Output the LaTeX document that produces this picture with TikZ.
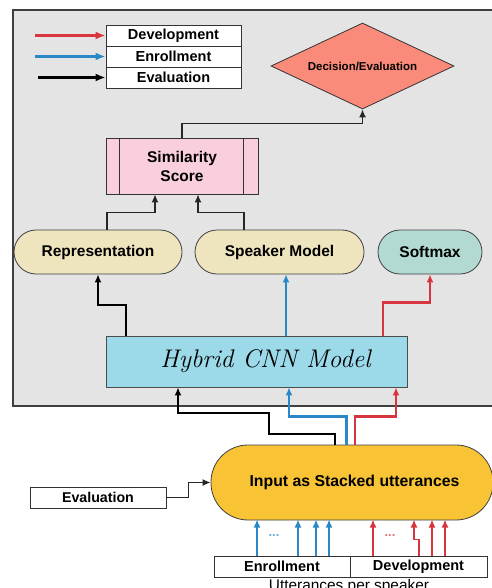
\documentclass[tikz,border=0pt]{standalone}
\usepackage{fontspec}
\setsansfont{Liberation Sans}
\usepackage{tikz}
\usetikzlibrary{shapes.geometric}
\usetikzlibrary{arrows.meta}
\definecolor{bggray}{HTML}{E4E4E4}
\definecolor{devred}{HTML}{D9353F}
\definecolor{enrblue}{HTML}{2A88C8}
\definecolor{decfill}{HTML}{FA8B7B}
\definecolor{simfill}{HTML}{F9CEDD}
\definecolor{repfill}{HTML}{EEE4BE}
\definecolor{softfill}{HTML}{B2DAD3}
\definecolor{cnnfill}{HTML}{9CDAEA}
\definecolor{inpfill}{HTML}{F9C336}

\begin{document}
\begin{tikzpicture}[x=1pt,y=-1pt,
    legbox/.style={draw=black!80, line width=0.8pt, fill=white, inner sep=0pt,
        minimum height=21pt, font=\sffamily\bfseries\fontsize{14.5}{16}\selectfont},
    pill/.style={draw=black!75, line width=0.8pt, rounded corners=22pt, inner sep=0pt,
        minimum height=44pt, font=\sffamily\bfseries\fontsize{15.5}{17}\selectfont},
    tip/.style={-{Latex[length=8pt,width=7pt]}},
    blkthin/.style={draw=black!85, line width=1.3pt, tip},
    blkarr/.style={draw=black, line width=2pt, tip},
    bluarr/.style={draw=enrblue, line width=2.3pt, tip},
    redarr/.style={draw=devred, line width=2.3pt, tip},
    bluthin/.style={draw=enrblue, line width=1.3pt, tip},
    redthin/.style={draw=devred, line width=1.3pt, tip},
    legarr/.style={line width=2.6pt, -{Latex[length=10pt,width=8pt]}}]
    \useasboundingbox (0,0) rectangle (491,588);

    % grey frame round the model
    \draw[draw=black!75, line width=1.8pt, fill=bggray] (13,10) rectangle (500,406);

    % legend
    \node[legbox, minimum width=135pt] (devbox) at (173.5,35.5) {Development};
    \node[legbox, minimum width=135pt] (enrbox) at (173.5,56.5) {Enrollment};
    \node[legbox, minimum width=135pt] (evabox) at (173.5,77.5) {Evaluation};
    \coordinate (devtail) at (35,35.5);
    \coordinate (enrtail) at (35,56.5);
    \coordinate (evatail) at (38,77.5);
    \draw[legarr, devred] (devtail) -- (devbox.west);
    \draw[legarr, enrblue] (enrtail) -- (enrbox.west);
    \draw[legarr, black] (evatail) -- (evabox.west);

    \node[diamond, aspect=2.1, draw=black!80, line width=0.8pt, fill=decfill, inner sep=0pt,
        minimum width=183pt, minimum height=86pt,
        font=\sffamily\bfseries\fontsize{11.5}{13}\selectfont] (dec) at (362.5,66) {Decision/Evaluation};

    \node[draw=black!80, line width=0.8pt, fill=simfill, minimum width=152pt, minimum height=56pt,
        align=center, font=\sffamily\bfseries\fontsize{15.5}{19}\selectfont] (sim) at (182,166) {Similarity\\Score};
    \draw[black!80, line width=0.8pt] (sim.north west) ++(14,0) -- ++(0,56);
    \draw[black!80, line width=0.8pt] (sim.north east) ++(-15,0) -- ++(0,56);

    \node[pill, fill=repfill, minimum width=168pt] (rep) at (98,252) {Representation};
    \node[pill, fill=repfill, minimum width=169pt] (spk) at (279.5,252) {Speaker Model};
    \node[pill, fill=softfill, minimum width=104pt] (soft) at (430,252) {Softmax};

    \node[draw=black!70, line width=0.8pt, fill=cnnfill, minimum width=301pt, minimum height=51pt,
        font=\fontsize{25.5}{30}\selectfont\itshape] (cnn) at (256.5,361.5) {\hspace*{18pt}Hybrid CNN Model};

    \node[draw=black!75, line width=0.8pt, fill=inpfill, rounded corners=37pt, minimum width=282pt,
        minimum height=75pt, font=\sffamily\bfseries\fontsize{15.8}{18}\selectfont] (inp) at (352,482.5) {\hspace*{5pt}Input as Stacked utterances};

    \node[legbox, minimum width=136pt, font=\sffamily\bfseries\fontsize{14.2}{16}\selectfont] (evalin) at (98,497.5) {Evaluation};
    \node[legbox, minimum width=136pt] (enrin) at (282,566.5) {Enrollment};
    \node[legbox, minimum width=137pt] (devin) at (418.5,566.5) {Development};
    \node[font=\sffamily\fontsize{15.4}{17}\selectfont] (utt) at (349,587) {Utterances per speaker};

    % scores and decision
    \draw[blkthin] (sim.north) -- ++(0,-14) -| (dec.south);
    \draw[blkthin] ([xshift=9pt]rep.north) -- ++(0,-17) -| ([xshift=-27pt]sim.south);
    \draw[blkthin] ([xshift=-35.5pt]spk.north) -- ++(0,-17) -| ([xshift=16pt]sim.south);

    % out of the model
    \draw[blkarr] ([xshift=-130.5pt]cnn.north) -- ++(0,-31) -| (rep.south);
    \draw[bluarr] ([xshift=29.5pt]cnn.north) -- ([xshift=6.5pt]spk.south);
    \draw[redarr] ([xshift=126.5pt]cnn.north) -- ++(0,-33) -| (soft.south);

    % into the model
    \draw[blkarr] ([xshift=-17pt]inp.north) -- ++(0,-11) -| ++(-66,-21) -| ([xshift=-78.5pt]cnn.south);
    \draw[bluarr] ([xshift=-5.5pt]inp.north) -- ++(0,-28) -| ([xshift=32.5pt]cnn.south);
    \draw[redarr] ([xshift=3pt]inp.north) -- ++(0,-28) -| ([xshift=139.5pt]cnn.south);

    \draw[blkthin] (evalin.east) -- ++(22,0) |- (inp.west);

    % utterances
    \foreach \dx in {-25,16,34,47}
        \draw[bluthin] ([xshift=\dx pt]enrin.north) -- ++(0,-36);
    \foreach \dx in {-45.5,13.5,26.5}
        \draw[redthin] ([xshift=\dx pt]devin.north) -- ++(0,-36);
    \draw[redthin] ([xshift=0.5pt]devin.north) -- ++(0,-16) -- ++(-5,0) -- ++(0,-20);
    \node[text=enrblue!70, font=\sffamily\bfseries\fontsize{13}{14}\selectfont] (enrdots) at (274,536) {...};
    \node[text=devred!70, font=\sffamily\bfseries\fontsize{13}{14}\selectfont] (devdots) at (390,536) {...};
\end{tikzpicture}
\end{document}
